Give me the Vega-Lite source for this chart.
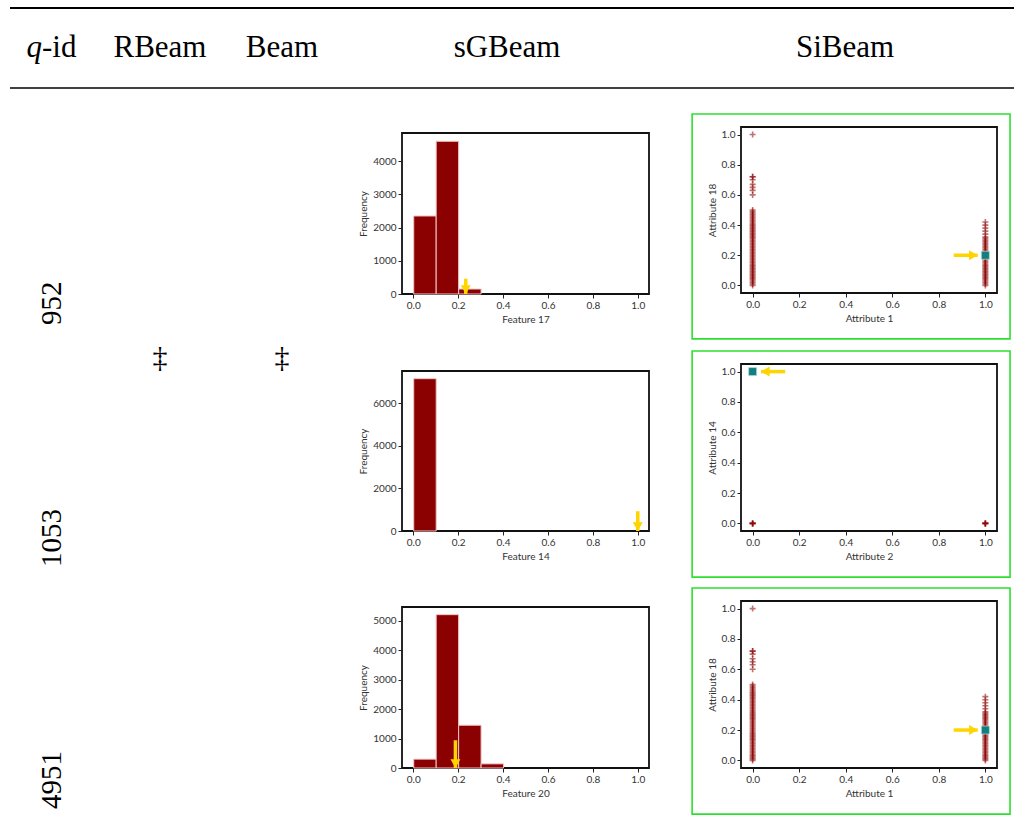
{
  "$schema": "https://vega.github.io/schema/vega-lite/v6.json",
  "padding": {"left": 9, "top": 7, "right": 0, "bottom": 0},
  "background": "white",
  "datasets": {
    "hist_952": [
      {"bin_start": 0.0, "bin_end": 0.1, "count": 2350},
      {"bin_start": 0.1, "bin_end": 0.2, "count": 4600},
      {"bin_start": 0.2, "bin_end": 0.3, "count": 150}
    ],
    "hist_1053": [
      {"bin_start": 0.0, "bin_end": 0.1, "count": 7150}
    ],
    "hist_4951": [
      {"bin_start": 0.0, "bin_end": 0.1, "count": 300},
      {"bin_start": 0.1, "bin_end": 0.2, "count": 5200},
      {"bin_start": 0.2, "bin_end": 0.3, "count": 1450},
      {"bin_start": 0.3, "bin_end": 0.4, "count": 140}
    ],
    "harrow_952": [{"x": 0.234, "tail": 461, "head": 0}],
    "harrow_1053": [{"x": 1.0, "tail": 930, "head": 0}],
    "harrow_4951": [{"x": 0.188, "tail": 940, "head": 0}],
    "sel_952": [{"x": 1, "y": 0.2}],
    "sel_1053": [{"x": 0, "y": 1}],
    "sel_4951": [{"x": 1, "y": 0.2}],
    "sarrow_952": [{"x_tail": 0.864, "x_head": 0.967, "y": 0.2}],
    "sarrow_1053": [{"x_tail": 0.14, "x_head": 0.036, "y": 1}],
    "sarrow_4951": [{"x_tail": 0.864, "x_head": 0.967, "y": 0.2}],
    "attr2_attr14": [
      {"x": 0, "y": 0}, {"x": 0, "y": 0}, {"x": 0, "y": 0}, {"x": 0, "y": 0},
      {"x": 1, "y": 0}, {"x": 1, "y": 0}, {"x": 1, "y": 0}, {"x": 1, "y": 0}
    ],
    "attr1_attr18": [
      {"x": 0, "y": 0}, {"x": 0, "y": 0.01}, {"x": 0, "y": 0.02}, {"x": 0, "y": 0.03}, {"x": 0, "y": 0.04},
      {"x": 0, "y": 0.05}, {"x": 0, "y": 0.06}, {"x": 0, "y": 0.07}, {"x": 0, "y": 0.08}, {"x": 0, "y": 0.09},
      {"x": 0, "y": 0.1}, {"x": 0, "y": 0.11}, {"x": 0, "y": 0.12}, {"x": 0, "y": 0.13}, {"x": 0, "y": 0.14},
      {"x": 0, "y": 0.15}, {"x": 0, "y": 0.16}, {"x": 0, "y": 0.17}, {"x": 0, "y": 0.18}, {"x": 0, "y": 0.19},
      {"x": 0, "y": 0.2}, {"x": 0, "y": 0.21}, {"x": 0, "y": 0.22}, {"x": 0, "y": 0.23}, {"x": 0, "y": 0.24},
      {"x": 0, "y": 0.25}, {"x": 0, "y": 0.26}, {"x": 0, "y": 0.27}, {"x": 0, "y": 0.28}, {"x": 0, "y": 0.29},
      {"x": 0, "y": 0.3}, {"x": 0, "y": 0.31}, {"x": 0, "y": 0.32}, {"x": 0, "y": 0.33}, {"x": 0, "y": 0.34},
      {"x": 0, "y": 0.35}, {"x": 0, "y": 0.36}, {"x": 0, "y": 0.37}, {"x": 0, "y": 0.38}, {"x": 0, "y": 0.39},
      {"x": 0, "y": 0.4}, {"x": 0, "y": 0.41}, {"x": 0, "y": 0.42}, {"x": 0, "y": 0.43}, {"x": 0, "y": 0.44},
      {"x": 0, "y": 0.45}, {"x": 0, "y": 0.46}, {"x": 0, "y": 0.47}, {"x": 0, "y": 0.48}, {"x": 0, "y": 0.49},
      {"x": 0, "y": 0.5}, {"x": 0, "y": 0.6}, {"x": 0, "y": 0.63}, {"x": 0, "y": 0.65}, {"x": 0, "y": 0.67},
      {"x": 0, "y": 0.7}, {"x": 0, "y": 0.72}, {"x": 0, "y": 0.72}, {"x": 0, "y": 1.0},
      {"x": 1, "y": 0}, {"x": 1, "y": 0.01}, {"x": 1, "y": 0.02}, {"x": 1, "y": 0.03}, {"x": 1, "y": 0.04},
      {"x": 1, "y": 0.05}, {"x": 1, "y": 0.06}, {"x": 1, "y": 0.07}, {"x": 1, "y": 0.08}, {"x": 1, "y": 0.09},
      {"x": 1, "y": 0.1}, {"x": 1, "y": 0.11}, {"x": 1, "y": 0.12}, {"x": 1, "y": 0.13}, {"x": 1, "y": 0.14},
      {"x": 1, "y": 0.15}, {"x": 1, "y": 0.16}, {"x": 1, "y": 0.17}, {"x": 1, "y": 0.18}, {"x": 1, "y": 0.19},
      {"x": 1, "y": 0.2}, {"x": 1, "y": 0.21}, {"x": 1, "y": 0.22}, {"x": 1, "y": 0.23}, {"x": 1, "y": 0.24},
      {"x": 1, "y": 0.25}, {"x": 1, "y": 0.26}, {"x": 1, "y": 0.27}, {"x": 1, "y": 0.28}, {"x": 1, "y": 0.29},
      {"x": 1, "y": 0.3}, {"x": 1, "y": 0.31}, {"x": 1, "y": 0.32}, {"x": 1, "y": 0.34}, {"x": 1, "y": 0.36},
      {"x": 1, "y": 0.38}, {"x": 1, "y": 0.4}, {"x": 1, "y": 0.42}
    ]
  },
  "config": {
    "view": {"stroke": null},
    "axis": {
      "grid": false, "domain": false, "ticks": true, "tickColor": "#222", "tickSize": 4, "tickWidth": 1, "tickCount": 12,
      "labelFont": "Lato", "labelFontSize": 10, "labelColor": "#333", "labelPadding": 2, "labelOverlap": false, "labelFlush": false,
      "titleFont": "Lato", "titleFontSize": 10, "titleFontWeight": "normal", "titleColor": "#333", "titlePadding": 4
    },
    "bar": {"binSpacing": 0},
    "text": {"font": "Liberation Serif", "color": "#000"}
  },
  "bounds": "full",
  "spacing": 0,
  "vconcat": [
    {
      "width": 1004, "height": 2,
      "data": {"values": [{"rule": "top"}]},
      "mark": {"type": "rule", "color": "#000", "strokeWidth": 2},
      "encoding": {"y": {"value": 1}, "x": {"value": 0}, "x2": {"value": "width"}}
    },
    {
      "bounds": "flush",
      "spacing": 0,
      "hconcat": [
        {
          "width": 84, "height": 78,
          "data": {"values": [{"q": "q", "rest": "-id"}]},
          "layer": [
            {"mark": {"type": "text", "fontSize": 31, "fontStyle": "italic", "align": "right", "baseline": "middle", "dx": -10},
             "encoding": {"text": {"field": "q"}}},
            {"mark": {"type": "text", "fontSize": 31, "align": "left", "baseline": "middle", "dx": -10},
             "encoding": {"text": {"field": "rest"}}}
          ]
        },
        {
          "width": 132, "height": 78,
          "data": {"values": [{"column": "RBeam"}]},
          "mark": {"type": "text", "fontSize": 31, "align": "center", "baseline": "middle"},
          "encoding": {"text": {"field": "column"}}
        },
        {
          "width": 112, "height": 78,
          "data": {"values": [{"column": "Beam"}]},
          "mark": {"type": "text", "fontSize": 31, "align": "center", "baseline": "middle"},
          "encoding": {"text": {"field": "column"}}
        },
        {
          "width": 338, "height": 78,
          "data": {"values": [{"column": "sGBeam"}]},
          "mark": {"type": "text", "fontSize": 31, "align": "center", "baseline": "middle"},
          "encoding": {"text": {"field": "column"}}
        },
        {
          "width": 338, "height": 78,
          "data": {"values": [{"column": "SiBeam"}]},
          "mark": {"type": "text", "fontSize": 31, "align": "center", "baseline": "middle"},
          "encoding": {"text": {"field": "column"}}
        }
      ]
    },
    {
      "width": 1004, "height": 2,
      "data": {"values": [{"rule": "mid"}]},
      "mark": {"type": "rule", "color": "#000", "strokeWidth": 1.3},
      "encoding": {"y": {"value": 1}, "x": {"value": 0}, "x2": {"value": "width"}}
    },
    {
      "bounds": "full",
      "spacing": 0,
      "hconcat": [
        {
          "width": 84, "height": 726,
          "data": {"values": [{"qid": "952"}, {"qid": "1053"}, {"qid": "4951"}]},
          "mark": {"type": "text", "angle": 270, "fontSize": 29, "align": "left", "baseline": "middle"},
          "encoding": {
            "y": {"field": "qid", "type": "nominal", "bandPosition": 0.975, "scale": {"type": "band", "domain": ["952", "1053", "4951"], "paddingInner": 0, "paddingOuter": 0}, "axis": null},
            "text": {"field": "qid"}
          }
        },
        {
          "width": 132, "height": 726,
          "data": {"values": [{"qid": "1053", "RBeam": "‡"}]},
          "mark": {"type": "text", "fontSize": 30, "align": "center", "baseline": "middle"},
          "encoding": {
            "y": {"field": "qid", "type": "nominal", "bandPosition": 0.11, "scale": {"type": "band", "domain": ["952", "1053", "4951"], "paddingInner": 0, "paddingOuter": 0}, "axis": null},
            "text": {"field": "RBeam"}
          }
        },
        {
          "width": 112, "height": 726,
          "data": {"values": [{"qid": "1053", "Beam": "‡"}]},
          "mark": {"type": "text", "fontSize": 30, "align": "center", "baseline": "middle"},
          "encoding": {
            "y": {"field": "qid", "type": "nominal", "bandPosition": 0.11, "scale": {"type": "band", "domain": ["952", "1053", "4951"], "paddingInner": 0, "paddingOuter": 0}, "axis": null},
            "text": {"field": "Beam"}
          }
        },
        {
          "width": 19, "height": 726,
          "data": {"values": []},
          "mark": "point",
          "encoding": {}
        },
        {
          "bounds": "flush",
          "spacing": 0,
          "vconcat": [
            {"width": 288, "height": 44, "data": {"values": []}, "mark": "point", "encoding": {}},
            {
              "width": 247, "height": 161,
              "view": {"stroke": "#111", "strokeWidth": 1.8},
              "layer": [
                {
                  "data": {"name": "hist_952"},
                  "mark": {"type": "bar", "color": "#8B0000", "stroke": "#f0c4c4", "strokeWidth": 1},
                  "encoding": {
                    "x": {"field": "bin_start", "type": "quantitative", "bin": {"binned": true, "step": 0.1}, "scale": {"domain": [-0.05, 1.05], "nice": false, "zero": false}, "axis": {"values": [0, 0.2, 0.4, 0.6, 0.8, 1], "tickCount": 12, "format": ".1f", "title": "Feature 17"}},
                    "x2": {"field": "bin_end"},
                    "y": {"field": "count", "type": "quantitative", "scale": {"domain": [0, 4850], "nice": false}, "axis": {"values": [0, 1000, 2000, 3000, 4000], "tickCount": 12, "format": "d", "title": "Frequency"}}
                  }
                },
                {
                  "data": {"name": "harrow_952"},
                  "mark": {"type": "rule", "color": "#FFD400", "strokeWidth": 3.5},
                  "encoding": {"x": {"field": "x", "type": "quantitative"}, "y": {"field": "tail", "type": "quantitative"}, "y2": {"field": "head"}}
                },
                {
                  "data": {"name": "harrow_952"},
                  "mark": {"type": "point", "shape": "triangle-down", "filled": true, "color": "#FFD400", "opacity": 1, "size": 100, "yOffset": -4.3},
                  "encoding": {"x": {"field": "x", "type": "quantitative"}, "y": {"field": "head", "type": "quantitative"}}
                }
              ]
            },
            {"width": 288, "height": 77, "data": {"values": []}, "mark": "point", "encoding": {}},
            {
              "width": 247, "height": 160,
              "view": {"stroke": "#111", "strokeWidth": 1.8},
              "layer": [
                {
                  "data": {"name": "hist_1053"},
                  "mark": {"type": "bar", "color": "#8B0000", "stroke": "#f0c4c4", "strokeWidth": 1},
                  "encoding": {
                    "x": {"field": "bin_start", "type": "quantitative", "bin": {"binned": true, "step": 0.1}, "scale": {"domain": [-0.05, 1.05], "nice": false, "zero": false}, "axis": {"values": [0, 0.2, 0.4, 0.6, 0.8, 1], "tickCount": 12, "format": ".1f", "title": "Feature 14"}},
                    "x2": {"field": "bin_end"},
                    "y": {"field": "count", "type": "quantitative", "scale": {"domain": [0, 7510], "nice": false}, "axis": {"values": [0, 2000, 4000, 6000], "tickCount": 12, "format": "d", "title": "Frequency"}}
                  }
                },
                {
                  "data": {"name": "harrow_1053"},
                  "mark": {"type": "rule", "color": "#FFD400", "strokeWidth": 3.5},
                  "encoding": {"x": {"field": "x", "type": "quantitative"}, "y": {"field": "tail", "type": "quantitative"}, "y2": {"field": "head"}}
                },
                {
                  "data": {"name": "harrow_1053"},
                  "mark": {"type": "point", "shape": "triangle-down", "filled": true, "color": "#FFD400", "opacity": 1, "size": 100, "yOffset": -4.3},
                  "encoding": {"x": {"field": "x", "type": "quantitative"}, "y": {"field": "head", "type": "quantitative"}}
                }
              ]
            },
            {"width": 288, "height": 76, "data": {"values": []}, "mark": "point", "encoding": {}},
            {
              "width": 247, "height": 161,
              "view": {"stroke": "#111", "strokeWidth": 1.8},
              "layer": [
                {
                  "data": {"name": "hist_4951"},
                  "mark": {"type": "bar", "color": "#8B0000", "stroke": "#f0c4c4", "strokeWidth": 1},
                  "encoding": {
                    "x": {"field": "bin_start", "type": "quantitative", "bin": {"binned": true, "step": 0.1}, "scale": {"domain": [-0.05, 1.05], "nice": false, "zero": false}, "axis": {"values": [0, 0.2, 0.4, 0.6, 0.8, 1], "tickCount": 12, "format": ".1f", "title": "Feature 20"}},
                    "x2": {"field": "bin_end"},
                    "y": {"field": "count", "type": "quantitative", "scale": {"domain": [0, 5460], "nice": false}, "axis": {"values": [0, 1000, 2000, 3000, 4000, 5000], "tickCount": 12, "format": "d", "title": "Frequency"}}
                  }
                },
                {
                  "data": {"name": "harrow_4951"},
                  "mark": {"type": "rule", "color": "#FFD400", "strokeWidth": 3.5},
                  "encoding": {"x": {"field": "x", "type": "quantitative"}, "y": {"field": "tail", "type": "quantitative"}, "y2": {"field": "head"}}
                },
                {
                  "data": {"name": "harrow_4951"},
                  "mark": {"type": "point", "shape": "triangle-down", "filled": true, "color": "#FFD400", "opacity": 1, "size": 100, "yOffset": -4.3},
                  "encoding": {"x": {"field": "x", "type": "quantitative"}, "y": {"field": "head", "type": "quantitative"}}
                }
              ]
            }
          ]
        },
        {
          "bounds": "flush",
          "spacing": 0,
          "vconcat": [
            {"width": 256, "height": 38, "data": {"values": []}, "mark": "point", "encoding": {}},
            {
              "width": 256, "height": 166,
              "view": {"stroke": "#111", "strokeWidth": 1.8},
              "layer": [
                {
                  "data": {"values": [{"panel": "SiBeam 952"}]},
                  "mark": {"type": "rect", "fillOpacity": 0, "stroke": "#2ee02e", "strokeWidth": 1.6, "clip": false},
                  "encoding": {"x": {"datum": -0.26}, "x2": {"datum": 1.106}, "y": {"datum": -0.354}, "y2": {"datum": 1.136}}
                },
                {
                  "data": {"name": "attr1_attr18"},
                  "mark": {"type": "point", "shape": "M-1,0L1,0M0,-1L0,1", "filled": false, "color": "#8B0000", "opacity": 0.55, "strokeWidth": 1.6, "size": 36},
                  "encoding": {
                    "x": {"field": "x", "type": "quantitative", "scale": {"domain": [-0.05, 1.05], "nice": false, "zero": false}, "axis": {"values": [0, 0.2, 0.4, 0.6, 0.8, 1], "tickCount": 12, "format": ".1f", "title": "Attribute 1"}},
                    "y": {"field": "y", "type": "quantitative", "scale": {"domain": [-0.05, 1.05], "nice": false, "zero": false}, "axis": {"values": [0, 0.2, 0.4, 0.6, 0.8, 1], "tickCount": 12, "format": ".1f", "title": "Attribute 18"}}
                  }
                },
                {
                  "data": {"name": "sel_952"},
                  "mark": {"type": "square", "color": "#137e7e", "opacity": 1, "size": 64, "stroke": "#b8dede", "strokeWidth": 0.7},
                  "encoding": {"x": {"field": "x", "type": "quantitative"}, "y": {"field": "y", "type": "quantitative"}}
                },
                {
                  "data": {"name": "sarrow_952"},
                  "mark": {"type": "rule", "color": "#FFD400", "strokeWidth": 3.5},
                  "encoding": {"x": {"field": "x_tail", "type": "quantitative"}, "x2": {"field": "x_head"}, "y": {"field": "y", "type": "quantitative"}}
                },
                {
                  "data": {"name": "sarrow_952"},
                  "mark": {"type": "point", "shape": "triangle-right", "filled": true, "color": "#FFD400", "opacity": 1, "size": 100, "xOffset": -4.3},
                  "encoding": {"x": {"field": "x_head", "type": "quantitative"}, "y": {"field": "y", "type": "quantitative"}}
                }
              ]
            },
            {"width": 256, "height": 71, "data": {"values": []}, "mark": "point", "encoding": {}},
            {
              "width": 256, "height": 167,
              "view": {"stroke": "#111", "strokeWidth": 1.8},
              "layer": [
                {
                  "data": {"values": [{"panel": "SiBeam 1053"}]},
                  "mark": {"type": "rect", "fillOpacity": 0, "stroke": "#2ee02e", "strokeWidth": 1.6, "clip": false},
                  "encoding": {"x": {"datum": -0.26}, "x2": {"datum": 1.106}, "y": {"datum": -0.354}, "y2": {"datum": 1.136}}
                },
                {
                  "data": {"name": "attr2_attr14"},
                  "mark": {"type": "point", "shape": "M-1,0L1,0M0,-1L0,1", "filled": false, "color": "#8B0000", "opacity": 0.55, "strokeWidth": 1.6, "size": 36},
                  "encoding": {
                    "x": {"field": "x", "type": "quantitative", "scale": {"domain": [-0.05, 1.05], "nice": false, "zero": false}, "axis": {"values": [0, 0.2, 0.4, 0.6, 0.8, 1], "tickCount": 12, "format": ".1f", "title": "Attribute 2"}},
                    "y": {"field": "y", "type": "quantitative", "scale": {"domain": [-0.05, 1.05], "nice": false, "zero": false}, "axis": {"values": [0, 0.2, 0.4, 0.6, 0.8, 1], "tickCount": 12, "format": ".1f", "title": "Attribute 14"}}
                  }
                },
                {
                  "data": {"name": "sel_1053"},
                  "mark": {"type": "square", "color": "#137e7e", "opacity": 1, "size": 64, "stroke": "#b8dede", "strokeWidth": 0.7},
                  "encoding": {"x": {"field": "x", "type": "quantitative"}, "y": {"field": "y", "type": "quantitative"}}
                },
                {
                  "data": {"name": "sarrow_1053"},
                  "mark": {"type": "rule", "color": "#FFD400", "strokeWidth": 3.5},
                  "encoding": {"x": {"field": "x_tail", "type": "quantitative"}, "x2": {"field": "x_head"}, "y": {"field": "y", "type": "quantitative"}}
                },
                {
                  "data": {"name": "sarrow_1053"},
                  "mark": {"type": "point", "shape": "triangle-left", "filled": true, "color": "#FFD400", "opacity": 1, "size": 100, "xOffset": 4.3},
                  "encoding": {"x": {"field": "x_head", "type": "quantitative"}, "y": {"field": "y", "type": "quantitative"}}
                }
              ]
            },
            {"width": 256, "height": 70, "data": {"values": []}, "mark": "point", "encoding": {}},
            {
              "width": 256, "height": 167,
              "view": {"stroke": "#111", "strokeWidth": 1.8},
              "layer": [
                {
                  "data": {"values": [{"panel": "SiBeam 4951"}]},
                  "mark": {"type": "rect", "fillOpacity": 0, "stroke": "#2ee02e", "strokeWidth": 1.6, "clip": false},
                  "encoding": {"x": {"datum": -0.26}, "x2": {"datum": 1.106}, "y": {"datum": -0.354}, "y2": {"datum": 1.136}}
                },
                {
                  "data": {"name": "attr1_attr18"},
                  "mark": {"type": "point", "shape": "M-1,0L1,0M0,-1L0,1", "filled": false, "color": "#8B0000", "opacity": 0.55, "strokeWidth": 1.6, "size": 36},
                  "encoding": {
                    "x": {"field": "x", "type": "quantitative", "scale": {"domain": [-0.05, 1.05], "nice": false, "zero": false}, "axis": {"values": [0, 0.2, 0.4, 0.6, 0.8, 1], "tickCount": 12, "format": ".1f", "title": "Attribute 1"}},
                    "y": {"field": "y", "type": "quantitative", "scale": {"domain": [-0.05, 1.05], "nice": false, "zero": false}, "axis": {"values": [0, 0.2, 0.4, 0.6, 0.8, 1], "tickCount": 12, "format": ".1f", "title": "Attribute 18"}}
                  }
                },
                {
                  "data": {"name": "sel_4951"},
                  "mark": {"type": "square", "color": "#137e7e", "opacity": 1, "size": 64, "stroke": "#b8dede", "strokeWidth": 0.7},
                  "encoding": {"x": {"field": "x", "type": "quantitative"}, "y": {"field": "y", "type": "quantitative"}}
                },
                {
                  "data": {"name": "sarrow_4951"},
                  "mark": {"type": "rule", "color": "#FFD400", "strokeWidth": 3.5},
                  "encoding": {"x": {"field": "x_tail", "type": "quantitative"}, "x2": {"field": "x_head"}, "y": {"field": "y", "type": "quantitative"}}
                },
                {
                  "data": {"name": "sarrow_4951"},
                  "mark": {"type": "point", "shape": "triangle-right", "filled": true, "color": "#FFD400", "opacity": 1, "size": 100, "xOffset": -4.3},
                  "encoding": {"x": {"field": "x_head", "type": "quantitative"}, "y": {"field": "y", "type": "quantitative"}}
                }
              ]
            }
          ]
        }
      ]
    }
  ]
}
